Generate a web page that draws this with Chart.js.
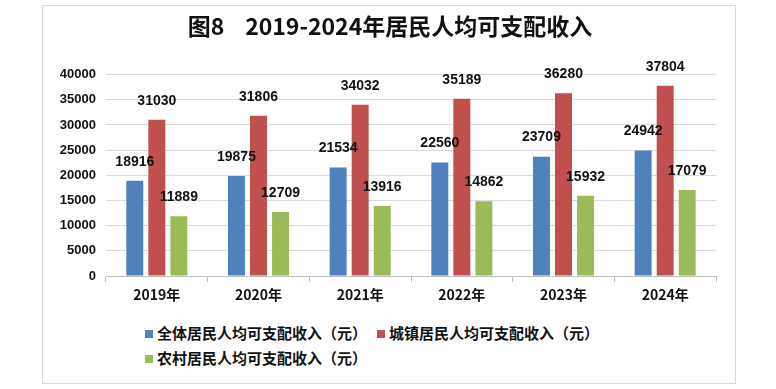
<!DOCTYPE html>
<html>
<head>
<meta charset="utf-8">
<script src="https://cdn.jsdelivr.net/npm/chart.js@4"></script>
<style>
  body { margin: 0; background: #fff; font-family: "Noto Sans CJK SC", sans-serif; }
  #frame { position: absolute; left: 42px; top: 5px; width: 692px; height: 377px; border: 1px solid #d9d9d9; }
  #wrap { position: absolute; left: 0; top: 0; width: 692px; height: 302px; }
  #legend { position: absolute; left: 102px; top: 314px; width: 580px; font: bold 15px "Noto Sans CJK SC", sans-serif; color: #111; }
  #legend span.item { display: inline-block; margin-right: 10px; height: 25px; line-height: 25px; white-space: nowrap; }
  #legend span.box { display: inline-block; width: 8px; height: 8px; margin-right: 4px; vertical-align: 1px; }
</style>
</head>
<body>
<div id="frame">
  <div id="wrap"><canvas id="incomeChart"></canvas></div>
  <div id="legend"></div>
</div>
<script>
const years = ['2019年', '2020年', '2021年', '2022年', '2023年', '2024年'];
const allResidents = [18916, 19875, 21534, 22560, 23709, 24942];
const urbanResidents = [31030, 31806, 34032, 35189, 36280, 37804];
const ruralResidents = [11889, 12709, 13916, 14862, 15932, 17079];
const yTicks = [0, 5000, 10000, 15000, 20000, 25000, 30000, 35000, 40000];

// labels above each bar
const barLabels = {
    id: 'barLabels',
    afterDatasetsDraw(chart) {
        const c = chart.ctx;
        c.save();
        c.font = 'bold 14px "Liberation Sans", Arial, sans-serif';
        c.fillStyle = '#111';
        c.textAlign = 'center';
        c.textBaseline = 'bottom';
        chart.data.datasets.forEach((ds, i) => {
            chart.getDatasetMeta(i).data.forEach((bar, j) => {
                c.fillText(ds.data[j], bar.x, bar.y - 12);
            });
        });
        c.restore();
    }
};

const ctx = document.getElementById('incomeChart').getContext('2d');
const incomeChart = new Chart(ctx, {
    type: 'bar',
    data: {
        labels: years,
        datasets: [
            { label: '全体居民人均可支配收入（元）', data: allResidents, backgroundColor: '#4F81BD' },
            { label: '城镇居民人均可支配收入（元）', data: urbanResidents, backgroundColor: '#C0504D' },
            { label: '农村居民人均可支配收入（元）', data: ruralResidents, backgroundColor: '#9BBB59' }
        ]
    },
    options: {
        responsive: true,
        maintainAspectRatio: false,
        animation: false,
        categoryPercentage: 0.65,
        barPercentage: 0.77,
        layout: { padding: { left: 0, right: 19, top: 0, bottom: 0 } },
        plugins: {
            legend: { display: false },
            tooltip: { enabled: false },
            title: {
                display: true,
                text: '    图8    2019-2024年居民人均可支配收入',
                color: '#111',
                font: { family: '"Noto Sans CJK SC", sans-serif', size: 23, weight: 'bold' },
                padding: { top: 6, bottom: 35 }
            }
        },
        scales: {
            x: {
                grid: { display: true, drawOnChartArea: false, offset: true, tickLength: 6, color: '#bfbfbf' },
                border: { color: '#bfbfbf' },
                ticks: { color: '#111', font: { family: '"Noto Sans CJK SC", sans-serif', size: 14, weight: 'bold' }, padding: 4 },
                afterFit(scale) { scale.height = 32; }
            },
            y: {
                min: 0,
                max: 40000,
                afterBuildTicks(scale) { scale.ticks = yTicks.map(v => ({ value: v })); },
                grid: { color: '#d9d9d9', drawTicks: false },
                border: { display: false },
                ticks: {
                    color: '#111',
                    font: { family: '"Liberation Sans", Arial, sans-serif', size: 13, weight: 'bold' },
                    padding: 10,
                    callback: v => String(v)
                },
                afterFit(scale) { scale.width = 63; }
            }
        }
    },
    plugins: [barLabels]
});

// legend built from the datasets
const legendEl = document.getElementById('legend');
incomeChart.data.datasets.forEach((ds, i) => {
    const item = document.createElement('span');
    item.className = 'item';
    item.innerHTML = '<span class="box" style="background:' + ds.backgroundColor + '"></span>' + ds.label;
    legendEl.appendChild(item);
    if (i === 1) legendEl.appendChild(document.createElement('br'));
});
</script>
</body>
</html>
